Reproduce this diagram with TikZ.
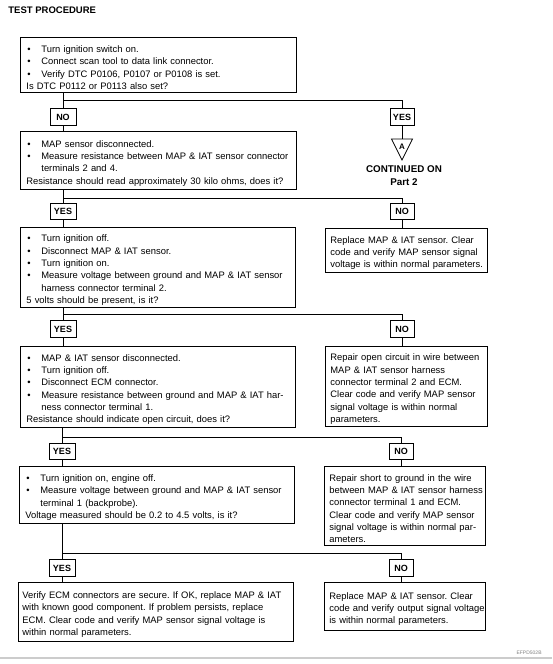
\documentclass[tikz,border=0pt]{standalone}
\usepackage{fontspec}
\setmainfont{Liberation Sans}
\newcommand{\plain}{\par\noindent\rightskip=0pt plus 1fil minus 12pt }
\newcommand{\bul}{\plain\hangindent=15pt\hangafter=1\makebox[15pt][l]{\hspace{1pt}\textbullet}}
\begin{document}
\begin{tikzpicture}[x=1pt,y=-1pt,line width=0.8pt,
	stepbox/.style={draw,anchor=north west,inner xsep=6pt,inner ysep=2pt,align=left,font=\fontsize{9.4}{12.3}\selectfont\frenchspacing},
	fixbox/.style={stepbox,inner xsep=5pt},
	answer/.style={draw,inner sep=0pt,minimum height=16.5pt,font=\fontsize{9}{10}\selectfont\bfseries}]
	\useasboundingbox (0,0) rectangle (552,664);
	\node[anchor=west,inner sep=0pt,font=\fontsize{9.5}{11}\selectfont\bfseries] (title) at (8,10) {TEST PROCEDURE};
	% left column
	\node[stepbox,text width=264pt,minimum height=55pt] (b1) at (20,37) {\bul Turn ignition switch on.\bul Connect scan tool to data link connector.\bul Verify DTC P0106, P0107 or P0108 is set.\plain Is DTC P0112 or P0113 also set?\par};
	\node[stepbox,text width=264pt,minimum height=58pt] (b2) at (20,131) {\bul MAP sensor disconnected.\bul Measure resistance between MAP \& IAT sensor connector\newline terminals 2 and 4.\plain Resistance should read approximately 30 kilo ohms, does it?\par};
	\node[stepbox,text width=263pt,minimum height=80pt] (b3) at (20,227) {\bul Turn ignition off.\bul Disconnect MAP \& IAT sensor.\bul Turn ignition on.\bul Measure voltage between ground and MAP \& IAT sensor\newline harness connector terminal 2.\plain 5 volts should be present, is it?\par};
	\node[stepbox,text width=263pt,minimum height=81pt] (b4) at (20,346) {\bul MAP \& IAT sensor disconnected.\bul Turn ignition off.\bul Disconnect ECM connector.\bul Measure resistance between ground and MAP \& IAT har-\newline ness connector terminal 1.\plain Resistance should indicate open circuit, does it?\par};
	\node[stepbox,text width=263pt,minimum height=57pt] (b5) at (19,466) {\bul Turn ignition on, engine off.\bul Measure voltage between ground and MAP \& IAT sensor\newline terminal 1 (backprobe).\plain Voltage measured should be 0.2 to 4.5 volts, is it?\par};
	\node[stepbox,inner xsep=4pt,text width=267pt,minimum height=59pt] (b6) at (18,582) {\plain Verify ECM connectors are secure. If OK, replace MAP \& IAT\newline with known good component. If problem persists, replace\newline ECM. Clear code and verify MAP sensor signal voltage is\newline within normal parameters.\par};
	% right column
	\node[fixbox,text width=152pt,minimum height=44pt] (f2) at (325,228) {\plain Replace MAP \& IAT sensor. Clear\newline code and verify MAP sensor signal\newline voltage is within normal parameters.\par};
	\node[fixbox,text width=152pt,minimum height=80pt] (f3) at (325,346) {\plain Repair open circuit in wire between\newline MAP \& IAT sensor harness\newline connector terminal 2 and ECM.\newline Clear code and verify MAP sensor\newline signal voltage is within normal\newline parameters.\par};
	\node[fixbox,text width=151pt,minimum height=79pt] (f4) at (324,466) {\plain Repair short to ground in the wire\newline between MAP \& IAT sensor harness\newline connector terminal 1 and ECM.\newline Clear code and verify MAP sensor\newline signal voltage is within normal par-\newline ameters.\par};
	\node[fixbox,text width=151pt,minimum height=48pt] (f5) at (324,582) {\plain Replace MAP \& IAT sensor. Clear\newline code and verify output signal voltage\newline is within normal parameters.\par};
	% answers
	\node[answer,minimum width=26pt] (lt1) at (63,117) {NO};
	\node[answer,minimum width=24pt] (rt1) at (402,117) {YES};
	\node[answer,minimum width=26pt] (lt2) at (63,211.5) {YES};
	\node[answer,minimum width=24pt] (rt2) at (402,211.5) {NO};
	\node[answer,minimum width=26pt] (lt3) at (63,329) {YES};
	\node[answer,minimum width=24pt] (rt3) at (402,329) {NO};
	\node[answer,minimum width=26pt] (lt4) at (62,451.5) {YES};
	\node[answer,minimum width=24pt] (rt4) at (401,451.5) {NO};
	\node[answer,minimum width=26pt] (lt5) at (62,568) {YES};
	\node[answer,minimum width=24pt] (rt5) at (401,568) {NO};
	% connector A
	\coordinate (tri) at (402,139);
	\draw (tri) ++(-10.5,0) -- ++(21,0) -- ++(-10.5,21) -- cycle;
	\node[inner sep=0pt,font=\fontsize{8}{9}\selectfont\bfseries] (triA) at (402,146.5) {A};
	\node[align=center,inner sep=0pt,font=\fontsize{9.8}{13}\selectfont\bfseries] (cont) at (404,175.5) {CONTINUED ON\\Part 2};
	\draw (rt1.south) -- (tri);
	% branches
	\foreach \i/\j/\sy in {1/2/100,2/3/198,3/4/314,4/5/437,5/6/553} {
		\coordinate (sp\i) at (0,\sy);
		\draw (b\i.south -| lt\i.north) -- (lt\i.north);
		\draw (lt\i.south) -- (b\j.north -| lt\i.south);
		\draw (lt\i.north |- sp\i) -| (rt\i.north);
	}
	\foreach \i in {2,...,5}
		\draw (rt\i.south) -- (f\i.north -| rt\i.south);
	\node[anchor=east,inner sep=0pt,text=gray,font=\fontsize{5}{6}\selectfont] (code) at (542,653) {EFPD502B};
	\draw[gray!40,line width=1.5pt] (0,658) -- (552,658);
\end{tikzpicture}
\end{document}
